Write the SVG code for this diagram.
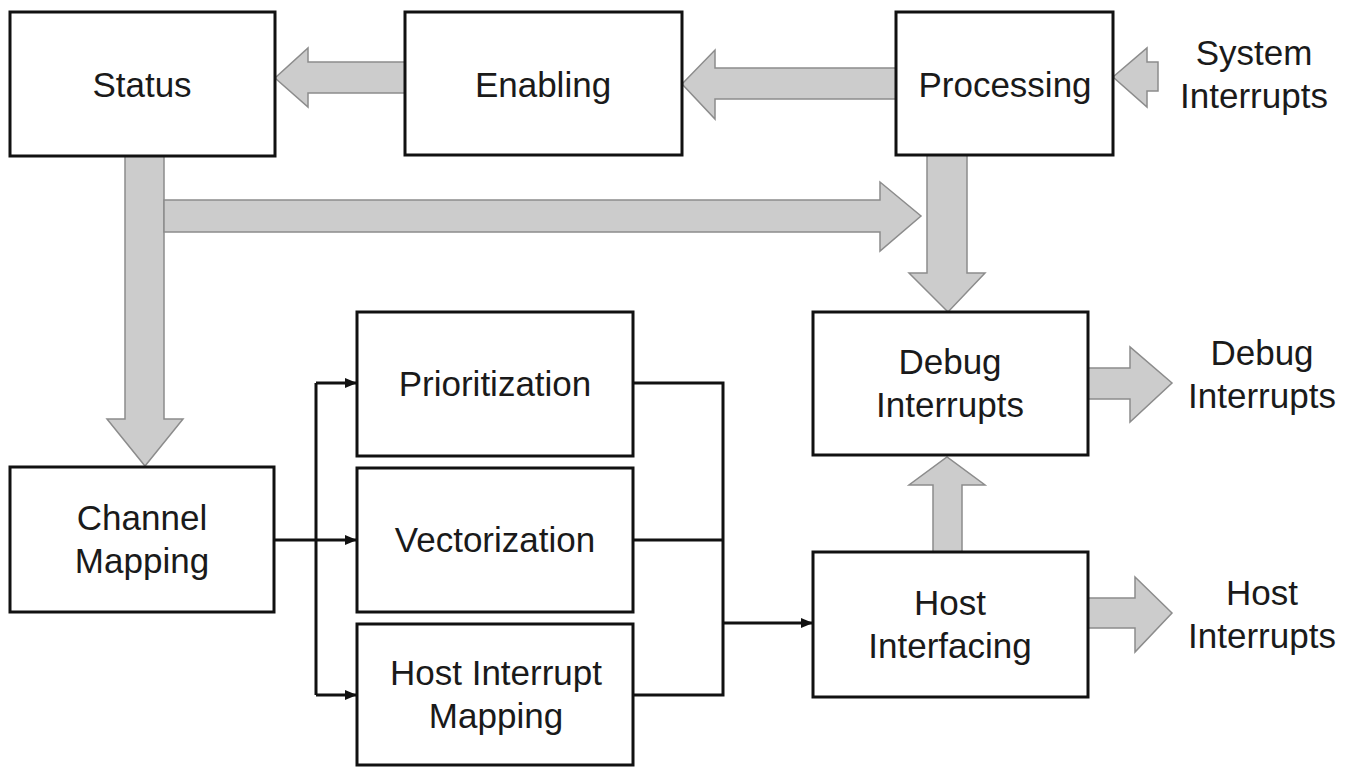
<svg xmlns="http://www.w3.org/2000/svg" width="1351" height="767" viewBox="0 0 1351 767">
  <style>
    .box { fill: #ffffff; stroke: #111111; stroke-width: 3; }
    .lbl { font-family: "Liberation Sans", Arial, sans-serif; font-size: 35px; fill: #1a1a1a; text-anchor: middle; }
    .big { fill: #cccccc; stroke: #8c8c8c; stroke-width: 1.5; stroke-linejoin: miter; }
    .thin { fill: none; stroke: #111111; stroke-width: 3; }
  </style>
  <defs>
    <marker id="ah" markerUnits="userSpaceOnUse" markerWidth="12" markerHeight="10" refX="12" refY="5" orient="auto">
      <path d="M0,0 L12,5 L0,10 z" fill="#111111"/>
    </marker>
  </defs>
  <rect width="1351" height="767" fill="#ffffff"/>

  <g id="connectors">
    <polygon class="big" points="405,62 308,62 308,48 275,78 308,107 308,93 405,93"/>
    <polygon class="big" points="896,68 715,68 715,50 682,84 715,119 715,99 896,99"/>
    <polygon class="big" points="1158,62 1147,62 1147,48 1113,77 1147,107 1147,91 1158,91"/>
    <polygon class="big" points="125,156 125,419 107,419 145,466 183,419 164,419 164,156"/>
    <polygon class="big" points="164,200 880,200 880,182 921,216 880,251 880,232 164,232"/>
    <polygon class="big" points="927,155 927,273 909,273 948,312 985,273 967,273 967,155"/>
    <polygon class="big" points="933,552 933,485 909,485 947,457 985,485 962,485 962,552"/>
    <polygon class="big" points="1088,368 1130,368 1130,347 1172,383 1130,422 1130,399 1088,399"/>
    <polygon class="big" points="1088,598 1135,598 1135,577 1172,613 1135,652 1135,628 1088,628"/>

    <path class="thin" d="M274,540 H357" marker-end="url(#ah)"/>
    <path class="thin" d="M316,383 V695"/>
    <path class="thin" d="M316,383 H357" marker-end="url(#ah)"/>
    <path class="thin" d="M316,695 H357" marker-end="url(#ah)"/>
    <path class="thin" d="M633,383 H723 V695 H633"/>
    <path class="thin" d="M633,540 H723"/>
    <path class="thin" d="M723,623 H813" marker-end="url(#ah)"/>
  </g>

  <g id="node-status">
    <rect class="box" x="10" y="12" width="265" height="144"/>
    <text class="lbl" x="142" y="97">Status</text>
  </g>
  <g id="node-enabling">
    <rect class="box" x="405" y="12" width="277" height="143"/>
    <text class="lbl" x="543" y="97">Enabling</text>
  </g>
  <g id="node-processing">
    <rect class="box" x="896" y="12" width="217" height="143"/>
    <text class="lbl" x="1005" y="97">Processing</text>
  </g>
  <g id="label-system-interrupts">
    <text class="lbl" x="1254" y="65">System</text>
    <text class="lbl" x="1254" y="108">Interrupts</text>
  </g>
  <g id="node-channel-mapping">
    <rect class="box" x="10" y="467" width="264" height="145"/>
    <text class="lbl" x="142" y="530">Channel</text>
    <text class="lbl" x="142" y="573">Mapping</text>
  </g>
  <g id="node-prioritization">
    <rect class="box" x="357" y="312" width="276" height="144"/>
    <text class="lbl" x="495" y="396">Prioritization</text>
  </g>
  <g id="node-vectorization">
    <rect class="box" x="357" y="468" width="276" height="144"/>
    <text class="lbl" x="495" y="552">Vectorization</text>
  </g>
  <g id="node-host-interrupt-mapping">
    <rect class="box" x="357" y="624" width="276" height="141"/>
    <text class="lbl" x="496" y="685">Host Interrupt</text>
    <text class="lbl" x="496" y="728">Mapping</text>
  </g>
  <g id="node-debug-interrupts">
    <rect class="box" x="813" y="312" width="275" height="143"/>
    <text class="lbl" x="950" y="374">Debug</text>
    <text class="lbl" x="950" y="417">Interrupts</text>
  </g>
  <g id="node-host-interfacing">
    <rect class="box" x="813" y="552" width="275" height="145"/>
    <text class="lbl" x="950" y="615">Host</text>
    <text class="lbl" x="950" y="658">Interfacing</text>
  </g>
  <g id="label-debug-interrupts">
    <text class="lbl" x="1262" y="365">Debug</text>
    <text class="lbl" x="1262" y="408">Interrupts</text>
  </g>
  <g id="label-host-interrupts">
    <text class="lbl" x="1262" y="605">Host</text>
    <text class="lbl" x="1262" y="648">Interrupts</text>
  </g>
</svg>
